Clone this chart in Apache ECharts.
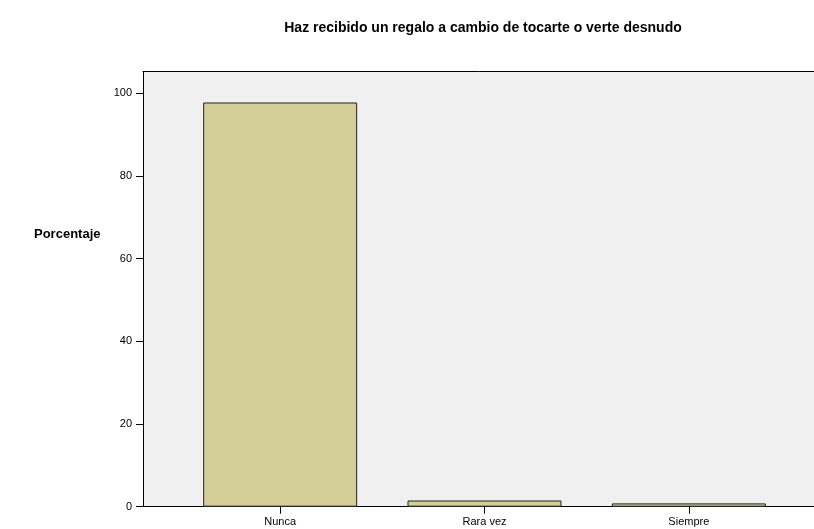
<!DOCTYPE html>
<html>
<head>
<meta charset="utf-8" />
<title>Haz recibido un regalo a cambio de tocarte o verte desnudo</title>
<script src="https://cdn.jsdelivr.net/npm/echarts@6/dist/echarts.min.js"></script>
<style>
	html, body { margin: 0; padding: 0; background: #fff; }
	#chart { width: 814px; height: 529px; }
</style>
</head>
<body>
<div id="chart"></div>
<script type="text/javascript">
	// categorias
	var categorias = ['Nunca', 'Rara vez', 'Siempre'];
	// porcentaje
	var porcentaje = [97.8, 1.5, 0.8];
	// marcas del eje y
	var yTicks = [0, 20, 40, 60, 80, 100];
	var yMax = 105.3;

	var myChart = echarts.init(document.getElementById('chart'));
	var option = {
		animation: false,
		title: {
			text: 'Haz recibido un regalo a cambio de tocarte o verte desnudo',
			left: 478,
			top: 16,
			textAlign: 'center',
			textStyle: { fontFamily: 'Liberation Sans, Arial', fontSize: 14, fontWeight: 'bold', color: '#000' }
		},
		graphic: [{
			type: 'text',
			left: 34,
			top: 228,
			style: { text: 'Porcentaje', font: 'bold 13px "Liberation Sans", Arial', fill: '#000' }
		}],
		grid: [
			// fondo y ejes
			{ left: 143, top: 71.5, right: -20, bottom: 22.3, show: true, backgroundColor: '#f0f0f0', borderWidth: 0 },
			// barras
			{ left: 178, top: 71.5, width: 613, bottom: 22.3 }
		],
		xAxis: [{
			gridIndex: 0, type: 'value', min: 0, max: 1,
			axisLine: { show: true, lineStyle: { color: '#000', width: 1 } },
			axisTick: { show: false }, axisLabel: { show: false }, splitLine: { show: false }
		}, {
			gridIndex: 0, type: 'value', min: 0, max: 1, position: 'top',
			axisLine: { show: true, lineStyle: { color: '#000', width: 1 } },
			axisTick: { show: false }, axisLabel: { show: false }, splitLine: { show: false }
		}, {
			gridIndex: 1, type: 'category', data: categorias,
			axisLine: { show: false },
			axisTick: { show: true, alignWithLabel: true, length: 7, lineStyle: { color: '#000' } },
			axisLabel: { fontFamily: 'Liberation Sans, Arial', fontSize: 11, color: '#000', margin: 10 },
			splitLine: { show: false }
		}],
		yAxis: [{
			gridIndex: 0, type: 'value', min: 0, max: yMax,
			axisLine: { show: true, lineStyle: { color: '#000', width: 1 } },
			axisTick: { show: true, length: 7, customValues: yTicks, lineStyle: { color: '#000' } },
			axisLabel: { customValues: yTicks, fontFamily: 'Liberation Sans, Arial', fontSize: 11, color: '#000', margin: 11 },
			splitLine: { show: false }
		}, {
			gridIndex: 1, type: 'value', min: 0, max: yMax, show: false
		}],
		series: [{
			name: 'Porcentaje',
			type: 'bar',
			xAxisIndex: 2,
			yAxisIndex: 1,
			data: porcentaje,
			barWidth: 154,
			itemStyle: { color: '#d3ce98', borderColor: '#222', borderWidth: 1 }
		}]
	};
	myChart.setOption(option);
</script>
</body>
</html>
